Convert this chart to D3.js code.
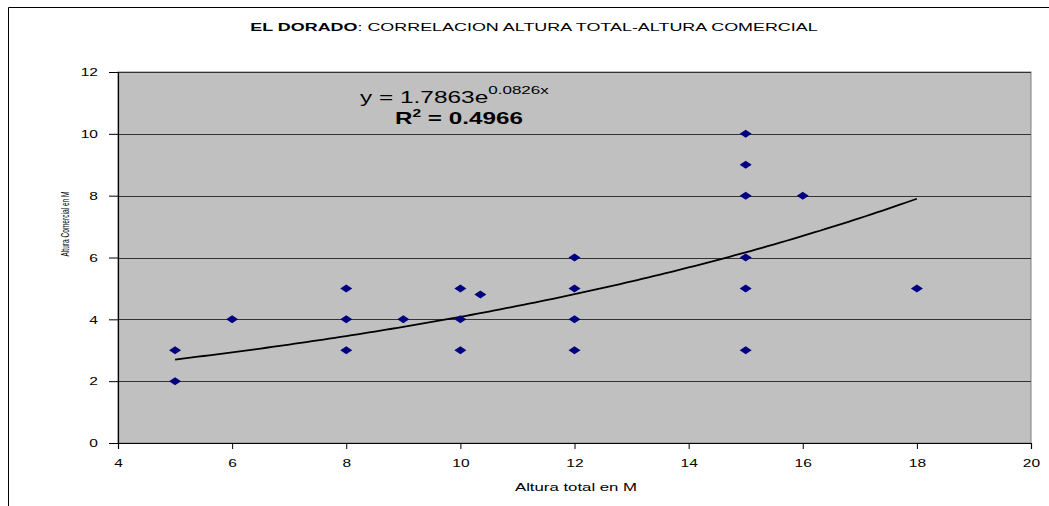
<!DOCTYPE html>
<html><head><meta charset="utf-8">
<script src="https://cdn.jsdelivr.net/npm/d3@7"></script>
<style>body{margin:0;background:#fff;} svg{display:block;font-family:"Liberation Sans",Arial,sans-serif;}</style>
</head><body>
<svg id="c" width="1049" height="506"></svg>
<script>
const xValues = [5, 5, 6, 8, 8, 8, 9, 10, 10, 10, 10.35, 12, 12, 12, 12, 15, 15, 15, 15, 15, 15, 16, 18];
const yValues = [3, 2, 4, 5, 4, 3, 4, 5, 4, 3, 4.8, 6, 5, 4, 3, 10, 9, 8, 6, 5, 3, 8, 5];
const xTicks = [4, 6, 8, 10, 12, 14, 16, 18, 20];
const yTicks = [0, 2, 4, 6, 8, 10, 12];
const trendA = 1.7863, trendB = 0.0826;
const trendRange = [5, 18];

const svg = d3.select("#c");
const L = 118, R = 1031, T = 72, B = 443;
const x = d3.scaleLinear().domain([4, 20]).range([L, R]);
const y = d3.scaleLinear().domain([0, 12]).range([B, T]);

// outer frame
svg.append("path").attr("d", "M8.5,506 V7.5 H1049").attr("fill", "none").attr("stroke", "#000").attr("stroke-width", 1);

// plot area
svg.append("rect").attr("x", L).attr("y", T).attr("width", R - L).attr("height", B - T)
  .attr("fill", "#c0c0c0").attr("stroke", "#808080").attr("stroke-width", 1);

// gridlines
svg.append("g").selectAll("line").data(yTicks.filter(d => d > 0)).join("line")
  .attr("x1", L).attr("x2", R).attr("y1", d => Math.round(y(d)) + 0.5).attr("y2", d => Math.round(y(d)) + 0.5)
  .attr("stroke", "#333").attr("stroke-width", 1);

// axes
const gx = svg.append("g").attr("transform", `translate(0,${B})`)
  .call(d3.axisBottom(x).tickValues(xTicks).tickSize(6).tickPadding(8).tickFormat(d3.format("d")));
const gy = svg.append("g").attr("transform", `translate(${L},0)`)
  .call(d3.axisLeft(y).tickValues(yTicks).tickSize(9).tickPadding(9).tickFormat(d3.format("d")));
[gx, gy].forEach(g => {
  g.select(".domain").attr("stroke", "#000").attr("stroke-width", 1.2);
  g.selectAll(".tick line").attr("stroke", "#000");
  g.selectAll("text").attr("font-size", 11.5).attr("fill", "#000").attr("font-family", "Liberation Sans, Arial, sans-serif");
});
gx.selectAll("text").attr("x", 0).attr("transform", "scale(1.35,1)").attr("dy", "0.9em");
gy.selectAll("text").attr("x", -20 / 1.35).attr("transform", "scale(1.35,1)");

// trend line
const trendPts = d3.range(trendRange[0], trendRange[1] + 0.001, 0.1).map(v => [v, trendA * Math.exp(trendB * v)]);
svg.append("path").datum(trendPts)
  .attr("d", d3.line().x(d => x(d[0])).y(d => y(d[1])))
  .attr("fill", "none").attr("stroke", "#000").attr("stroke-width", 1.8);

// points
const data = xValues.map((v, i) => ({x: v, y: yValues[i]}));
svg.append("g").selectAll("path").data(data).join("path")
  .attr("transform", d => `translate(${x(d.x)},${y(d.y)})`)
  .attr("d", "M-6,0 L0,-4 L6,0 L0,4 Z")
  .attr("fill", "#000080");

// title
const title = svg.append("text").attr("transform", "translate(534,31) scale(1.56,1)").attr("text-anchor", "middle").attr("font-size", 11.5);
title.append("tspan").attr("font-weight", "bold").text("EL DORADO");
title.append("tspan").text(": CORRELACION ALTURA TOTAL-ALTURA COMERCIAL");

// equation
const eq = svg.append("text").attr("transform", "translate(360,103) scale(1.48,1)").attr("font-size", 16.5);
eq.append("tspan").text("y = 1.7863e");
eq.append("tspan").attr("font-size", 11.5).attr("dy", -9).text("0.0826x");
const r2 = svg.append("text").attr("transform", "translate(395,124) scale(1.47,1)").attr("font-size", 16.5).attr("font-weight", "bold");
r2.append("tspan").text("R");
r2.append("tspan").attr("font-size", 10.5).attr("dy", -7).text("2");
r2.append("tspan").attr("dy", 7).text(" = 0.4966");

// axis labels
svg.append("text").attr("transform", "translate(576,491) scale(1.46,1)").attr("text-anchor", "middle").attr("font-size", 11.5).text("Altura total en M");
svg.append("text").attr("transform", "translate(69,224) rotate(-90)").attr("text-anchor", "middle")
  .attr("font-size", 10.5).attr("textLength", 65).attr("lengthAdjust", "spacingAndGlyphs").text("Altura Comercial en M");
</script>
</body></html>
